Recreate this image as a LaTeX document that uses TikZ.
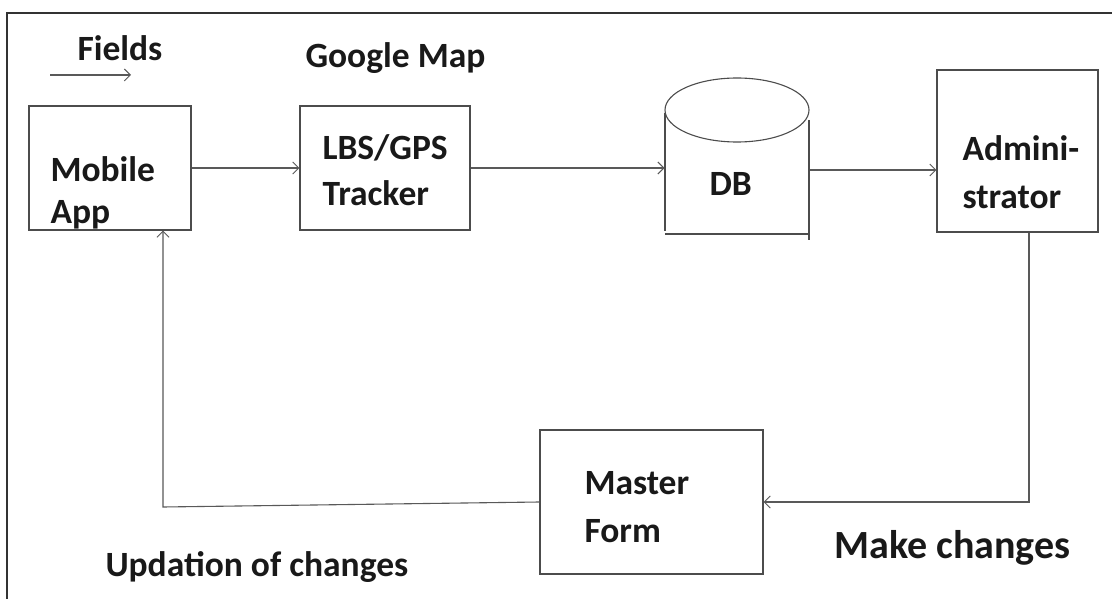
\documentclass[tikz,border=0pt]{standalone}
\usepackage{fontspec}
\setmainfont{Carlito}
\usetikzlibrary{arrows.meta,calc}
\begin{document}
\begin{tikzpicture}[x=1pt,y=-1pt,
  line width=1pt,
  box/.style={draw=black!70,line width=1.1pt,rectangle,inner sep=0pt},
  txt/.style={font=\fontsize{35.5}{42}\selectfont\bfseries,anchor=west,inner sep=0pt,text=black!90},
  conn/.style={draw=black!65,line width=1.1pt,-{Straight Barb[length=6pt,width=12pt,line width=1pt]}},
  plain/.style={draw=black!65,line width=1.1pt}]
\useasboundingbox (0,0) rectangle (1112,599);
\fill[white] (0,0) rectangle (1112,599);
% outer frame
\draw[black!80,line width=1.6pt] (7,599) -- (7,13) -- (1112,13);

% boxes
\node[box,minimum width=162pt,minimum height=124pt] (mobile) at (110,168) {};
\node[box,minimum width=170pt,minimum height=124pt] (lbs) at (385,168) {};
\node[box,minimum width=161pt,minimum height=162pt] (admin) at (1017.5,151) {};
\node[box,minimum width=223pt,minimum height=144pt] (master) at (651.5,502) {};
% database cylinder
\node[minimum width=144pt,minimum height=128pt,inner sep=0pt] (db) at (737,170) {};
\draw[black!70,line width=1.1pt] (737,110) ellipse [x radius=72, y radius=32];
\draw[black!70,line width=1.1pt] (665,113) -- (665,231);
\draw[black!70,line width=1.1pt] (809,120) -- (809,240);
\draw[black!70,line width=1.1pt] (665,234) -- (809,234);

% texts
\node[txt] (tmobile) at (50,169) {Mobile};
\node[txt] (tapp) at (50,215) {App};
\node[txt] (tlbs) at (322,148) {LBS/GPS};
\node[txt] (ttracker) at (322,193) {Tracker};
\node[txt] (tdb) at (709,184) {DB};
\node[txt] (tadmin) at (962,148) {Admini-};
\node[txt] (tstrator) at (962,197) {strator};
\node[txt] (tmaster) at (584,483) {Master};
\node[txt] (tform) at (584,531) {Form};
\node[txt] (tfields) at (77,48) {Fields};
\node[txt] (tgoogle) at (305,58) {Google Map};
\node[txt] (tupd) at (105,567) {Updation of changes};
\node[txt,font=\fontsize{40}{46}\selectfont\bfseries] (tmake) at (834,548) {Make changes};

% connectors
\coordinate (f1) at (50,75);
\coordinate (f2) at (131,75);
\draw[conn] (f1) -- (f2);
\draw[conn] (mobile.east) -- (lbs.west);
\draw[conn] (lbs.east) -- (lbs.east -| db.west);
\draw[conn] (db.east) -- (db.east -| admin.west);
\draw[conn] ([xshift=11.5pt]admin.south) |- (master.east);
\coordinate (bend) at (163,507);
\draw[conn] (master.west) -- (bend) -- (bend |- mobile.south);
\end{tikzpicture}
\end{document}
